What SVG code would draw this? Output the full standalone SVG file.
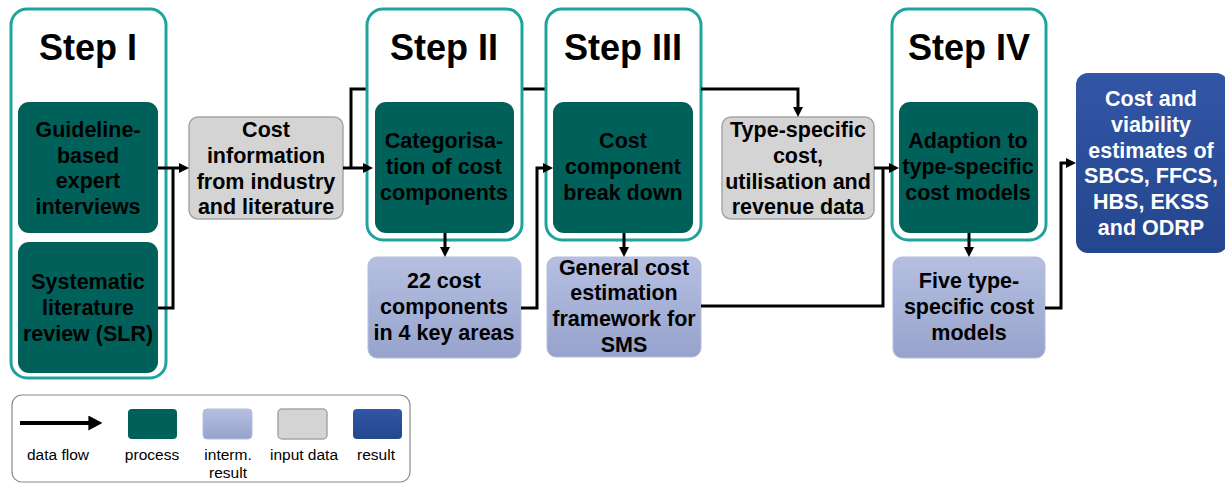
<svg xmlns="http://www.w3.org/2000/svg" width="1225" height="483" viewBox="0 0 1225 483">
<style>
.step{fill:#fff;stroke:#1fa39d;stroke-width:3}
.proc{fill:#00605a}
.inp{fill:#d4d4d4;stroke:#a6a6a6;stroke-width:1.5}
.int{fill:url(#gInt);stroke:#b4bde0;stroke-width:1}
.res{fill:url(#gRes)}
.title{font-family:"Liberation Sans",Arial,sans-serif;font-weight:bold;font-size:36px;text-anchor:middle;fill:#000}
.t{font-family:"Liberation Sans",Arial,sans-serif;font-weight:bold;font-size:21.5px;text-anchor:middle;fill:#000}
.tw{font-family:"Liberation Sans",Arial,sans-serif;font-weight:bold;font-size:21.5px;text-anchor:middle;fill:#fff}
.lg{font-family:"Liberation Sans",Arial,sans-serif;font-size:15.5px;text-anchor:middle;fill:#000}
.c{fill:none;stroke:#000;stroke-width:3}
</style>
<defs>
<linearGradient id="gInt" x1="0" y1="0" x2="0" y2="1"><stop offset="0" stop-color="#b5bfe1"/><stop offset="1" stop-color="#97a3cc"/></linearGradient>
<linearGradient id="gRes" x1="0" y1="0" x2="0" y2="1"><stop offset="0" stop-color="#3256a6"/><stop offset="1" stop-color="#24468f"/></linearGradient>
<marker id="ah" viewBox="0 0 10 10" refX="4" refY="5" markerWidth="10" markerHeight="10" markerUnits="userSpaceOnUse" orient="auto"><path d="M0,0 L10,5 L0,10 Z" fill="#000"/></marker>
<marker id="ahL" viewBox="0 0 10 10" refX="4" refY="5" markerWidth="14" markerHeight="15" markerUnits="userSpaceOnUse" orient="auto" preserveAspectRatio="none"><path d="M0,0 L10,5 L0,10 Z" fill="#000"/></marker>
</defs>
<rect width="1225" height="483" fill="#fff"/>

<g id="step1">
<rect class="step" x="11" y="9" width="155" height="369" rx="16"/>
<text class="title" x="88" y="60">Step I</text>
</g>
<g id="guideline">
<rect class="proc" x="18" y="102" width="140" height="131" rx="11"/>
<text class="t" x="88" y="137">Guideline-</text>
<text class="t" x="88" y="163">based</text>
<text class="t" x="88" y="188">expert</text>
<text class="t" x="88" y="214">interviews</text>
</g>
<g id="slr">
<rect class="proc" x="18" y="242" width="140" height="131" rx="11"/>
<text class="t" x="88" y="289">Systematic</text>
<text class="t" x="88" y="315">literature</text>
<text class="t" x="88" y="341">review (SLR)</text>
</g>
<g id="costinfo">
<rect class="inp" x="189" y="117" width="154" height="102" rx="9"/>
<text class="t" x="266" y="137">Cost</text>
<text class="t" x="266" y="163">information</text>
<text class="t" x="266" y="189">from industry</text>
<text class="t" x="266" y="214">and literature</text>
</g>

<g id="connectors-back">
<path class="c" d="M351,168 V89 H367 M522,89 H546"/>
</g>

<g id="step2">
<rect class="step" x="367" y="9" width="155" height="231" rx="16"/>
<text class="title" x="444" y="60">Step II</text>
</g>
<g id="categorisation">
<rect class="proc" x="375" y="102" width="139" height="131" rx="11"/>
<text class="t" x="444" y="148">Categorisa-</text>
<text class="t" x="444" y="174">tion of cost</text>
<text class="t" x="444" y="200">components</text>
</g>
<g id="cost22">
<rect class="int" x="368" y="257" width="153" height="101" rx="9"/>
<text class="t" x="444" y="288">22 cost</text>
<text class="t" x="444" y="314">components</text>
<text class="t" x="444" y="340">in 4 key areas</text>
</g>

<g id="step3">
<rect class="step" x="546" y="9" width="155" height="231" rx="16"/>
<text class="title" x="623" y="60">Step III</text>
</g>
<g id="breakdown">
<rect class="proc" x="553" y="102" width="140" height="131" rx="11"/>
<text class="t" x="623" y="148">Cost</text>
<text class="t" x="623" y="174">component</text>
<text class="t" x="623" y="200">break down</text>
</g>
<g id="framework">
<rect class="int" x="547" y="257" width="154" height="100" rx="9"/>
<text class="t" x="624" y="275">General cost</text>
<text class="t" x="624" y="300">estimation</text>
<text class="t" x="624" y="326">framework for</text>
<text class="t" x="624" y="352">SMS</text>
</g>

<g id="typedata">
<rect class="inp" x="722" y="117" width="152" height="102" rx="9"/>
<text class="t" x="798" y="137">Type-specific</text>
<text class="t" x="798" y="163">cost,</text>
<text class="t" x="798" y="189">utilisation and</text>
<text class="t" x="798" y="214">revenue data</text>
</g>

<g id="step4">
<rect class="step" x="892" y="9" width="154" height="231" rx="16"/>
<text class="title" x="969" y="60">Step IV</text>
</g>
<g id="adaption">
<rect class="proc" x="899" y="102" width="139" height="131" rx="11"/>
<text class="t" x="968" y="148">Adaption to</text>
<text class="t" x="968" y="174">type-specific</text>
<text class="t" x="968" y="200">cost models</text>
</g>
<g id="fivemodels">
<rect class="int" x="893" y="257" width="152" height="101" rx="9"/>
<text class="t" x="969" y="288">Five type-</text>
<text class="t" x="969" y="314">specific cost</text>
<text class="t" x="969" y="340">models</text>
</g>

<g id="result">
<rect class="res" x="1076" y="73" width="152" height="180" rx="12"/>
<text class="tw" x="1151" y="106">Cost and</text>
<text class="tw" x="1151" y="132">viability</text>
<text class="tw" x="1151" y="158">estimates of</text>
<text class="tw" x="1151" y="183">SBCS, FFCS,</text>
<text class="tw" x="1151" y="209">HBS, EKSS</text>
<text class="tw" x="1151" y="235">and ODRP</text>
</g>

<g id="connectors">
<path class="c" d="M158,168 H183" marker-end="url(#ah)"/>
<path class="c" d="M158,308 H173 V168"/>
<path class="c" d="M343,168 H367" marker-end="url(#ah)"/>
<path class="c" d="M701,89 H798 V111" marker-end="url(#ah)"/>
<path class="c" d="M445,233 V251" marker-end="url(#ah)"/>
<path class="c" d="M521,308 H537 V168 H547" marker-end="url(#ah)"/>
<path class="c" d="M624,233 V251" marker-end="url(#ah)"/>
<path class="c" d="M701,306 H883 V168"/>
<path class="c" d="M874,168 H893" marker-end="url(#ah)"/>
<path class="c" d="M969,233 V251" marker-end="url(#ah)"/>
<path class="c" d="M1045,308 H1061 V163 H1070" marker-end="url(#ah)"/>
</g>

<g id="legend">
<rect x="12" y="395" width="398" height="87" rx="10" fill="#fff" stroke="#8a8a8a" stroke-width="1.2"/>
<path d="M20,423 H94" stroke="#000" stroke-width="4" fill="none" marker-end="url(#ahL)"/>
<rect class="proc" x="128" y="409" width="49" height="30" rx="4"/>
<rect class="int" x="203" y="409" width="49" height="30" rx="4"/>
<rect class="inp" x="278" y="409" width="49" height="30" rx="4"/>
<rect class="res" x="353" y="409" width="49" height="30" rx="4"/>
<text class="lg" x="58" y="460">data flow</text>
<text class="lg" x="152" y="460">process</text>
<text class="lg" x="228" y="460">interm.</text>
<text class="lg" x="228" y="478">result</text>
<text class="lg" x="304" y="460">input data</text>
<text class="lg" x="376" y="460">result</text>
</g>
</svg>
